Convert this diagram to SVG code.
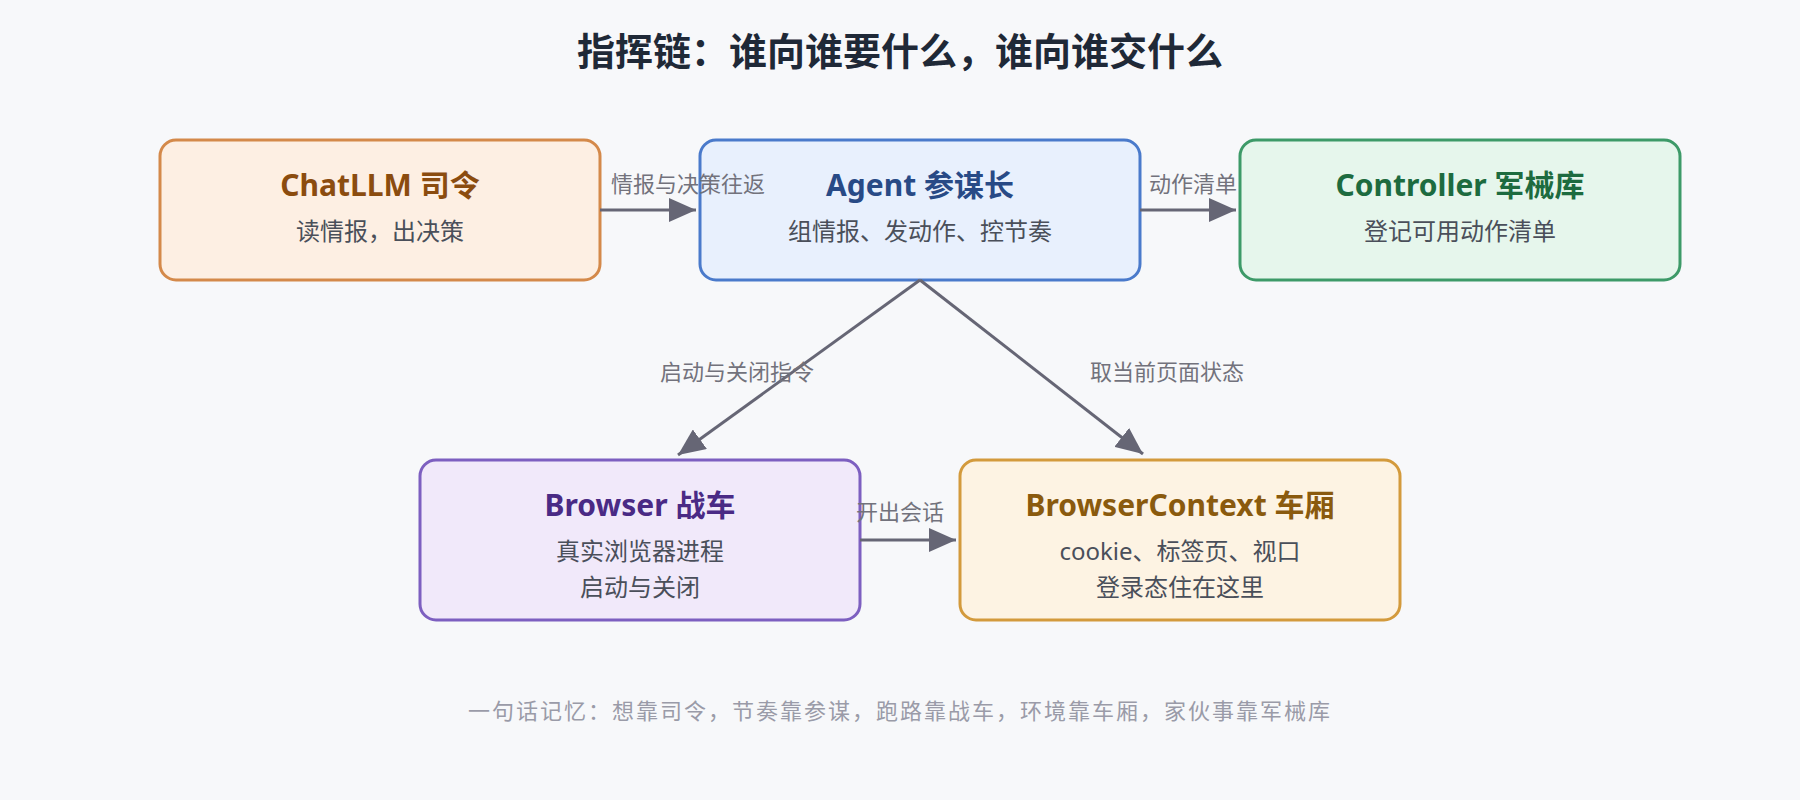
<svg xmlns="http://www.w3.org/2000/svg" width="1800" height="800" viewBox="0 0 1800 800">
  <defs>
    <marker id="arrow" viewBox="0 0 9 8" refX="9" refY="4" markerWidth="9" markerHeight="8" markerUnits="strokeWidth" orient="auto">
      <path d="M0,0 L9,4 L0,8 z" fill="#666675"/>
    </marker>
    <style>
      text { font-family: "Noto Sans", "Noto Sans CJK SC", sans-serif; }
      .title { font-size: 38px; font-weight: 700; fill: #1f2937; text-anchor: middle; }
      .box { stroke-width: 3; }
      .ntitle { font-size: 30px; font-weight: 700; text-anchor: middle; }
      .sub { font-size: 24px; fill: #4a4f5a; text-anchor: middle; }
      .edge { stroke: #666675; stroke-width: 3; fill: none; marker-end: url(#arrow); }
      .elabel { font-size: 22px; fill: #72727c; text-anchor: middle; }
      .footer { font-size: 22px; letter-spacing: 2px; fill: #9a9ba8; text-anchor: middle; }
    </style>
  </defs>
  <rect x="0" y="0" width="1800" height="800" fill="#f7f8fa"/>
  <text class="title" x="900" y="65">指挥链：谁向谁要什么，谁向谁交什么</text>

  <g id="chatllm">
    <rect class="box" x="160" y="140" width="440" height="140" rx="16" fill="#fdefe3" stroke="#d4894a"/>
    <text class="ntitle" x="380" y="196" fill="#8b4c0f">ChatLLM 司令</text>
    <text class="sub" x="380" y="240">读情报，出决策</text>
  </g>

  <g id="agent">
    <rect class="box" x="700" y="140" width="440" height="140" rx="16" fill="#e8f0fd" stroke="#4a7acb"/>
    <text class="ntitle" x="920" y="196" fill="#284a86">Agent 参谋长</text>
    <text class="sub" x="920" y="240">组情报、发动作、控节奏</text>
  </g>

  <g id="controller">
    <rect class="box" x="1240" y="140" width="440" height="140" rx="16" fill="#e6f6ec" stroke="#3d9a68"/>
    <text class="ntitle" x="1460" y="196" fill="#1d6b3f">Controller 军械库</text>
    <text class="sub" x="1460" y="240">登记可用动作清单</text>
  </g>

  <g id="browser">
    <rect class="box" x="420" y="460" width="440" height="160" rx="16" fill="#f1e9fa" stroke="#7d5fc0"/>
    <text class="ntitle" x="640" y="516" fill="#4a2a85">Browser 战车</text>
    <text class="sub" x="640" y="560">真实浏览器进程</text>
    <text class="sub" x="640" y="596">启动与关闭</text>
  </g>

  <g id="browsercontext">
    <rect class="box" x="960" y="460" width="440" height="160" rx="16" fill="#fdf3e3" stroke="#d39a3c"/>
    <text class="ntitle" x="1180" y="516" fill="#8a5a0e">BrowserContext 车厢</text>
    <text class="sub" x="1180" y="560">cookie、标签页、视口</text>
    <text class="sub" x="1180" y="596">登录态住在这里</text>
  </g>

  <g id="connectors">
    <line class="edge" x1="600" y1="210" x2="696" y2="210"/>
    <line class="edge" x1="1140" y1="210" x2="1236" y2="210"/>
    <line class="edge" x1="920" y1="280" x2="678" y2="455"/>
    <line class="edge" x1="920" y1="280" x2="1143" y2="454"/>
    <line class="edge" x1="860" y1="540" x2="956" y2="540"/>
    <text class="elabel" x="688" y="192">情报与决策往返</text>
    <text class="elabel" x="1193" y="192">动作清单</text>
    <text class="elabel" x="737" y="380">启动与关闭指令</text>
    <text class="elabel" x="1167" y="380">取当前页面状态</text>
    <text class="elabel" x="900" y="520">开出会话</text>
  </g>

  <text class="footer" x="900" y="719">一句话记忆：想靠司令，节奏靠参谋，跑路靠战车，环境靠车厢，家伙事靠军械库</text>
</svg>
